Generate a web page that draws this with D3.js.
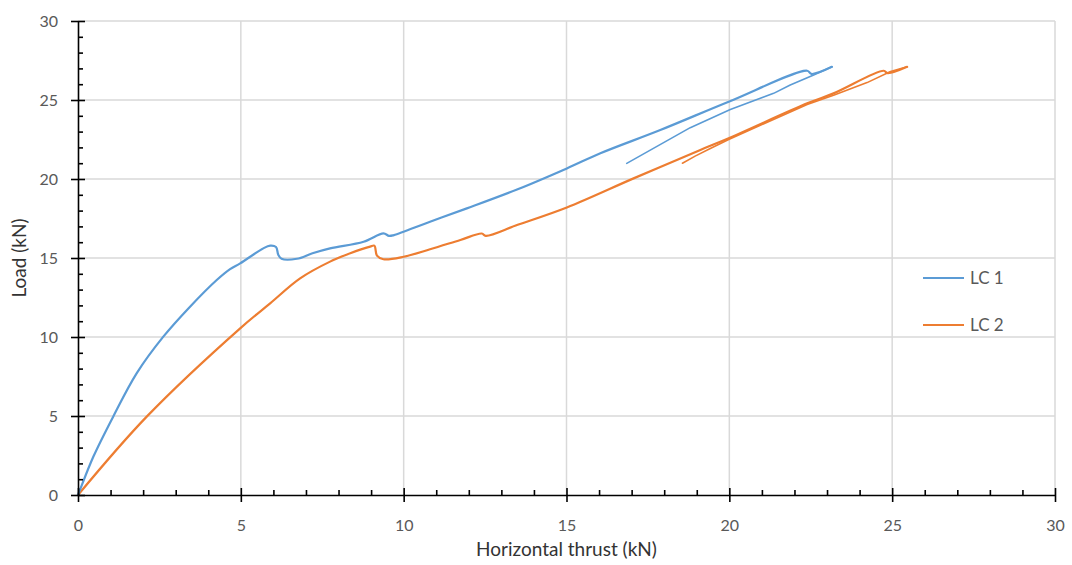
<!DOCTYPE html>
<html>
<head>
<meta charset="utf-8">
<script src="https://cdn.jsdelivr.net/npm/d3@7"></script>
<style>
  html, body { margin: 0; padding: 0; background: #fff; }
  svg { display: block; }
</style>
</head>
<body>
<svg id="chart" width="1072" height="565"></svg>
<script>
// Load vs. horizontal thrust, two load cases (kN)
const lc1Load = [
  [0, 0], [0.06, 0.32], [0.47, 2.42], [1.08, 4.96], [1.80, 7.70], [2.62, 10.02],
  [3.44, 11.92], [4.26, 13.61], [4.67, 14.30], [4.98, 14.66], [5.69, 15.61],
  [5.90, 15.78], [6.08, 15.70], [6.15, 15.20], [6.25, 14.95], [6.72, 14.95],
  [7.20, 15.30], [7.74, 15.61], [8.77, 16.03], [9.38, 16.56], [9.55, 16.40],
  [9.70, 16.45], [10.81, 17.30], [11.94, 18.14], [13.50, 19.35], [15.01, 20.67],
  [16.04, 21.63], [17.88, 23.10], [19.98, 24.89], [22.39, 26.85], [22.52, 26.65],
  [23.15, 27.10]
];
const lc1Unload = [
  [23.15, 27.10], [22.59, 26.58], [21.87, 25.95], [21.36, 25.42], [20.03, 24.40],
  [18.80, 23.25], [16.85, 20.99]
];
const lc2Load = [
  [0, 0], [2.11, 4.96], [4.98, 10.55], [5.90, 12.13], [6.82, 13.71],
  [7.74, 14.77], [8.36, 15.30], [8.97, 15.72], [9.10, 15.78], [9.18, 15.15],
  [9.38, 14.92], [10.00, 15.08], [10.81, 15.55], [11.74, 16.14], [12.40, 16.55],
  [12.52, 16.40], [13.50, 17.10], [15.01, 18.20], [17.06, 20.04], [19.11, 21.84],
  [19.98, 22.58], [22.39, 24.79], [23.20, 25.42], [24.74, 26.85], [24.86, 26.70],
  [25.46, 27.10]
];
const lc2Unload = [
  [25.46, 27.10], [24.95, 26.80], [24.23, 26.10], [23.20, 25.30], [22.39, 24.72],
  [19.98, 22.50], [19.40, 21.92], [18.95, 21.45], [18.56, 21.00]
];
const seriesNames = ["LC 1", "LC 2"];
const seriesColors = ["#5b9bd5", "#ed7d31"];
const xTicks = [0, 5, 10, 15, 20, 25, 30];
const yTicks = [0, 5, 10, 15, 20, 25, 30];
const minorTicks = d3.range(0, 31, 1).filter(v => v % 5 !== 0);

const svg = d3.select("#chart");
const pLeft = 78, pRight = 1055, pTop = 21, pBottom = 495;
const x = d3.scaleLinear().domain([0, 30]).range([pLeft, pRight]);
const y = d3.scaleLinear().domain([0, 30]).range([pBottom, pTop]);
const font = "Lato, 'Open Sans', sans-serif";

// gridlines
const grid = svg.append("g");
grid.selectAll(".gx").data(xTicks.filter(d => d > 0)).join("line")
  .attr("x1", d => x(d)).attr("x2", d => x(d))
  .attr("y1", pTop).attr("y2", pBottom)
  .attr("stroke", "#d9d9d9").attr("stroke-width", 1.5);
grid.selectAll(".gy").data(yTicks.filter(d => d > 0)).join("line")
  .attr("x1", pLeft).attr("x2", pRight)
  .attr("y1", d => y(d)).attr("y2", d => y(d))
  .attr("stroke", "#d9d9d9").attr("stroke-width", 1.5);

// series lines: loading branches smoothed, unloading branches straight
const loadLine = d3.line().curve(d3.curveCatmullRom.alpha(0.5)).x(d => x(d[0])).y(d => y(d[1]));
const unloadLine = d3.line().x(d => x(d[0])).y(d => y(d[1]));
const plot = svg.append("g").attr("fill", "none")
  .attr("stroke-linejoin", "round").attr("stroke-linecap", "round");
plot.append("path").datum(lc2Load).attr("d", loadLine)
  .attr("stroke", seriesColors[1]).attr("stroke-width", 2.2);
plot.append("path").datum(lc2Unload).attr("d", unloadLine)
  .attr("stroke", seriesColors[1]).attr("stroke-width", 1.6);
plot.append("path").datum(lc1Load).attr("d", loadLine)
  .attr("stroke", seriesColors[0]).attr("stroke-width", 2.2);
plot.append("path").datum(lc1Unload).attr("d", unloadLine)
  .attr("stroke", seriesColors[0]).attr("stroke-width", 1.6);

// axes
function styleAxis(g) {
  g.select(".domain").attr("stroke", "#000").attr("stroke-width", 1.6);
  g.selectAll(".tick line").attr("stroke", "#000").attr("stroke-width", 1.6);
  g.selectAll("text").attr("fill", "#595959")
    .style("font-family", font).style("font-size", "16px");
}
const xAxis = svg.append("g").attr("transform", `translate(0,${pBottom})`)
  .call(d3.axisBottom(x).tickValues(xTicks).tickSize(7).tickPadding(18).tickSizeOuter(0));
xAxis.selectAll(".tick line").attr("y1", -7);
styleAxis(xAxis);
const xMinor = svg.append("g").attr("transform", `translate(0,${pBottom})`)
  .call(d3.axisBottom(x).tickValues(minorTicks).tickSize(-5).tickFormat(""));
xMinor.select(".domain").remove();
styleAxis(xMinor);

const yAxis = svg.append("g").attr("transform", `translate(${pLeft},0)`)
  .call(d3.axisLeft(y).tickValues(yTicks).tickSize(7).tickPadding(13).tickSizeOuter(0));
yAxis.selectAll(".tick line").attr("x1", 7);
styleAxis(yAxis);
const yMinor = svg.append("g").attr("transform", `translate(${pLeft},0)`)
  .call(d3.axisLeft(y).tickValues(minorTicks).tickSize(-5).tickFormat(""));
yMinor.select(".domain").remove();
styleAxis(yMinor);

// axis titles
svg.append("text").attr("x", (pLeft + pRight) / 2).attr("y", 556)
  .attr("text-anchor", "middle").attr("fill", "#333")
  .style("font-family", font).style("font-size", "19px")
  .text("Horizontal thrust (kN)");
svg.append("text")
  .attr("transform", `translate(26,${(pTop + pBottom) / 2}) rotate(-90)`)
  .attr("text-anchor", "middle").attr("fill", "#333")
  .style("font-family", font).style("font-size", "19px")
  .text("Load (kN)");

// legend
const legend = svg.append("g");
seriesNames.forEach((name, i) => {
  const ly = 278 + i * 47;
  legend.append("line").attr("x1", 923).attr("x2", 964)
    .attr("y1", ly).attr("y2", ly)
    .attr("stroke", seriesColors[i]).attr("stroke-width", 2);
  legend.append("text").attr("x", 970).attr("y", ly).attr("dy", "0.35em")
    .attr("fill", "#595959").style("font-family", font).style("font-size", "17px")
    .text(name);
});
</script>
</body>
</html>
